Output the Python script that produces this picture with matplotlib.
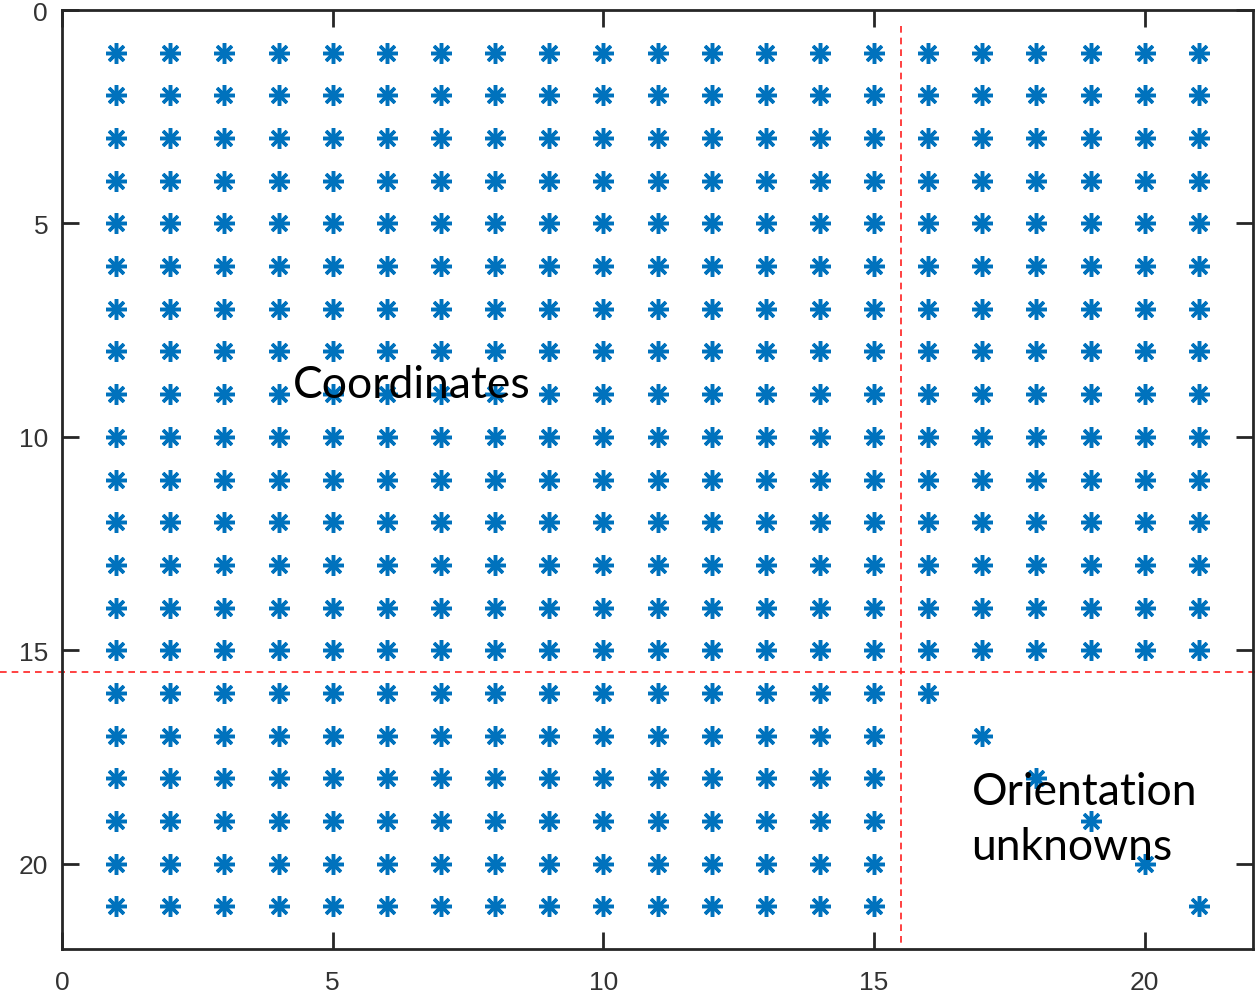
import matplotlib
matplotlib.use("Agg")
import matplotlib.pyplot as plt

# Sparsity pattern of the normal matrix: '*' marks a non-zero entry.
pattern = [
    "*********************",
    "*********************",
    "*********************",
    "*********************",
    "*********************",
    "*********************",
    "*********************",
    "*********************",
    "*********************",
    "*********************",
    "*********************",
    "*********************",
    "*********************",
    "*********************",
    "*********************",
    "***************+.....",
    "***************.+....",
    "***************..+...",
    "***************...+..",
    "***************....+.",
    "***************.....+",
]
block_split = 15.5
x_ticks = [0, 5, 10, 15, 20]
y_ticks = [0, 5, 10, 15, 20]
labels = ["Coordinates", "Orientation\nunknowns"]

xs, ys = [], []
for r, row in enumerate(pattern, start=1):
    for c, ch in enumerate(row, start=1):
        if ch in "*+":
            xs.append(c)
            ys.append(r)

fig = plt.figure(figsize=(12.59, 9.95), dpi=100)
ax = fig.add_axes([62 / 1259, 1 - 950 / 995, 1191 / 1259, 939 / 995])

ax.plot(xs, ys, linestyle="none", marker=(8, 2, 0), markersize=15,
        markeredgewidth=2.5, color="#0072BD")

ax.set_xlim(0, 22)
ax.set_ylim(22, 0)
ax.set_xticks(x_ticks)
ax.set_yticks(y_ticks)

# Block separators
ax.plot([block_split, block_split], [0.38, 21.9], linestyle=(0, (4, 3)),
        color="#ff2020", linewidth=1.2, clip_on=False)
ax.plot([-1.15, 22.05], [block_split, block_split], linestyle=(0, (4, 3)),
        color="#ff2020", linewidth=1.2, clip_on=False)

ax.text(4.27, 9.07, labels[0], fontsize=32, family="Lato", color="black",
        va="baseline", ha="left")
ax.text(16.8, 19.9, labels[1], fontsize=32, family="Lato", color="black",
        va="baseline", ha="left", linespacing=1.44)

for s in ax.spines.values():
    s.set_color("#262626")
    s.set_linewidth(2)
ax.tick_params(direction="in", length=12, width=2, color="#262626",
               top=True, right=True, labelsize=19, labelcolor="#333333")
ax.tick_params(axis="x", pad=15)
ax.tick_params(axis="y", pad=10)
for lab in ax.get_xticklabels() + ax.get_yticklabels():
    lab.set_family("Liberation Sans")

fig.savefig("out.png", dpi=100)
